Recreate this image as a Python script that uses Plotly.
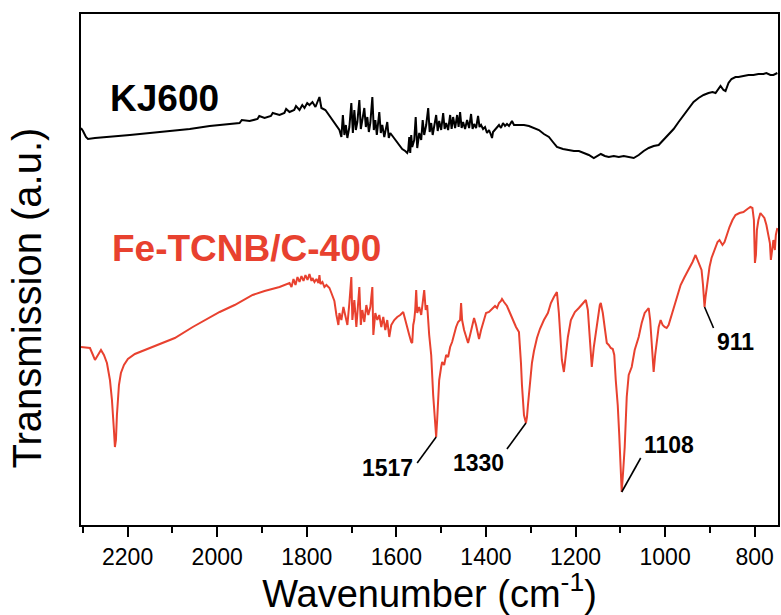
import plotly.graph_objects as go

# ---------------- data ----------------
kj600_wn = [2304.0, 2299.5, 2293.0, 2288.4, 2272.8, 2239.4, 2194.9, 2150.3, 2105.8, 2061.2,
            2016.7, 1972.2, 1950.0, 1945.0, 1927.6, 1910.0, 1906.0, 1894.2, 1880.0, 1876.0,
            1860.8, 1850.0, 1846.0, 1838.5, 1828.0, 1824.0, 1816.2, 1810.0, 1805.1, 1799.0,
            1794.0, 1787.3, 1780.6, 1771.7, 1767.3, 1758.4, 1749.4, 1740.5, 1731.6, 1727.1,
            1722.7, 1719.4, 1716.0, 1712.7, 1709.4, 1704.9, 1700.5, 1697.1, 1693.8, 1690.4,
            1687.1, 1682.6, 1679.3, 1675.9, 1671.5, 1668.1, 1664.8, 1661.4, 1658.1, 1653.6,
            1650.3, 1646.9, 1643.6, 1638.1, 1634.7, 1631.4, 1626.9, 1620.3, 1616.9, 1613.6,
            1606.9, 1600.2, 1593.5, 1586.9, 1580.2, 1575.7, 1573.5, 1571.2, 1569.0, 1566.8,
            1564.6, 1560.1, 1556.8, 1553.4, 1548.9, 1544.5, 1541.2, 1537.8, 1533.4, 1528.9,
            1525.6, 1522.2, 1518.9, 1515.5, 1511.1, 1507.7, 1504.4, 1499.9, 1495.5, 1492.2,
            1488.8, 1484.4, 1479.9, 1476.6, 1473.3, 1468.8, 1464.3, 1461.0, 1457.7, 1454.3,
            1451.0, 1446.6, 1442.1, 1437.6, 1433.2, 1429.8, 1426.5, 1422.0, 1417.6, 1414.3,
            1410.9, 1406.4, 1402.0, 1397.6, 1393.1, 1388.7, 1386.4, 1384.2, 1379.7, 1375.3,
            1370.8, 1366.4, 1361.9, 1357.4, 1353.0, 1348.5, 1344.1, 1341.9, 1337.4, 1326.3,
            1315.1, 1304.0, 1292.8, 1281.7, 1270.6, 1259.4, 1250.5, 1241.5, 1228.0, 1214.8,
            1203.6, 1192.5, 1181.3, 1170.3, 1159.2, 1143.5, 1134.6, 1125.8, 1114.6, 1103.5,
            1092.4, 1081.3, 1070.1, 1058.9, 1047.8, 1036.7, 1025.6, 1014.4, 1003.3, 992.2,
            981.0, 969.9, 958.8, 947.6, 936.5, 925.3, 914.2, 903.1, 894.2, 887.4,
            880.8, 876.3, 869.7, 865.2, 858.5, 851.8, 842.9, 836.3, 825.1, 814.0,
            802.8, 791.7, 780.6, 773.9, 765.0, 758.3, 749.4]
kj600_t = [397, 394, 388, 386, 387, 388, 390, 392, 394, 396,
           399, 401, 402, 405, 404, 406, 409, 407, 409, 412,
           410, 412, 416, 413, 415, 419, 415, 420, 417, 422,
           420, 423, 418, 428, 417, 415, 409, 403, 398, 395,
           388, 410, 390, 400, 387, 398, 422, 392, 415, 395,
           403, 425, 396, 405, 417, 398, 408, 393, 402, 428,
           395, 405, 390, 413, 392, 400, 388, 403, 387, 392,
           388, 383, 379, 376, 374, 372, 375, 388, 372, 390,
           378, 385, 408, 377, 392, 385, 405, 390, 400, 417,
           393, 402, 390, 400, 410, 394, 404, 395, 412, 396,
           402, 395, 410, 396, 408, 397, 410, 398, 413, 397,
           403, 396, 405, 397, 411, 396, 401, 397, 409, 398,
           400, 396, 398, 392, 395, 390, 387, 393, 395, 398,
           400, 397, 402, 399, 401, 399, 402, 404, 400, 400,
           400, 399, 397, 395, 391, 388, 383, 378, 376, 375,
           374, 374, 372, 370, 367, 371, 369, 368, 369, 368,
           369, 368, 367, 370, 374, 377, 379, 380, 385, 390,
           396, 403, 410, 417, 423, 427, 430, 432, 433, 432,
           436, 439, 435, 434, 442, 446, 448, 448, 449, 450,
           450, 451, 451, 452, 450, 450, 452]

fe_wn = [2304.0, 2284.0, 2277.3, 2272.8, 2266.1, 2259.4, 2252.8, 2246.1, 2239.4, 2234.9,
         2230.5, 2228.3, 2226.0, 2223.8, 2219.3, 2214.9, 2208.1, 2199.3, 2183.7, 2161.5,
         2128.1, 2094.6, 2054.5, 2016.7, 1994.4, 1961.0, 1920.9, 1894.2, 1860.8, 1838.5,
         1834.1, 1829.6, 1825.2, 1820.7, 1816.2, 1811.8, 1807.3, 1802.9, 1798.4, 1794.0,
         1789.5, 1787.3, 1782.8, 1778.4, 1773.9, 1771.7, 1769.5, 1765.0, 1760.6, 1756.1,
         1749.4, 1745.0, 1738.3, 1733.8, 1729.4, 1727.1, 1722.7, 1718.2, 1713.8, 1709.3,
         1704.9, 1700.5, 1698.2, 1693.8, 1689.3, 1684.9, 1682.6, 1679.3, 1675.9, 1671.5,
         1667.0, 1662.6, 1658.1, 1653.6, 1651.4, 1647.0, 1642.5, 1638.1, 1633.6, 1629.2,
         1624.7, 1620.3, 1615.8, 1611.4, 1604.7, 1598.0, 1591.3, 1584.7, 1580.2, 1575.7,
         1571.2, 1566.8, 1564.6, 1562.3, 1560.1, 1557.9, 1555.7, 1553.4, 1549.0, 1544.5,
         1540.0, 1537.8, 1534.5, 1531.2, 1526.7, 1522.2, 1517.8, 1513.3, 1511.1, 1508.9,
         1506.6, 1504.4, 1500.0, 1497.7, 1493.3, 1488.8, 1484.4, 1479.9, 1475.5, 1471.0,
         1466.6, 1462.1, 1457.7, 1455.5, 1453.2, 1448.8, 1444.3, 1439.9, 1435.4, 1431.0,
         1426.5, 1422.1, 1417.6, 1415.4, 1410.9, 1404.2, 1399.8, 1393.1, 1386.4, 1379.7,
         1375.3, 1370.8, 1366.4, 1364.1, 1359.7, 1353.0, 1346.3, 1339.6, 1332.9, 1326.3,
         1324.0, 1321.8, 1319.6, 1317.4, 1315.1, 1310.7, 1308.4, 1306.2, 1301.8, 1297.3,
         1292.8, 1286.1, 1279.5, 1270.6, 1261.7, 1255.0, 1248.3, 1241.6, 1237.2, 1232.7,
         1230.5, 1226.0, 1221.6, 1217.1, 1210.4, 1201.5, 1192.6, 1183.7, 1177.0, 1172.5,
         1169.2, 1165.9, 1163.7, 1159.2, 1154.8, 1150.3, 1145.8, 1143.6, 1139.1, 1134.7,
         1130.2, 1125.8, 1121.3, 1116.9, 1113.5, 1110.2, 1105.8, 1102.4, 1099.1, 1096.9,
         1093.5, 1090.2, 1085.7, 1081.3, 1074.6, 1067.9, 1059.0, 1052.3, 1045.6, 1041.1,
         1036.7, 1033.4, 1030.0, 1027.8, 1025.6, 1022.2, 1018.9, 1014.4, 1010.0, 1005.5,
         1001.1, 996.6, 992.2, 985.5, 978.8, 972.1, 965.4, 956.5, 947.6, 938.8,
         932.1, 925.4, 918.7, 915.4, 913.1, 912.0, 909.8, 905.3, 900.9, 896.4,
         889.7, 883.0, 878.6, 871.9, 867.4, 863.0, 856.3, 849.6, 842.9, 834.0,
         825.1, 816.3, 809.6, 805.1, 801.8, 799.5, 797.3, 795.1, 791.7, 787.3,
         782.8, 778.4, 773.9, 769.4, 766.1, 763.9, 761.6, 758.3, 755.0, 752.8,
         749.4]
fe_t = [178, 177, 170, 165, 170, 175, 170, 162, 145, 125,
        95, 78, 85, 110, 140, 152, 160, 166, 171, 175,
        181, 187, 198, 207, 213, 220, 230, 234, 238, 242,
        238, 246, 240, 248, 243, 249, 244, 250, 245, 251,
        244, 247, 243, 246, 242, 250, 241, 243, 238, 240,
        237, 232, 224, 210, 200, 212, 205, 218, 210, 200,
        222, 248, 205, 225, 198, 230, 238, 200, 215, 203,
        220, 210, 218, 238, 190, 212, 205, 210, 198, 208,
        195, 205, 188, 200, 205, 208, 210, 213, 205, 195,
        190, 183, 182, 200, 205, 215, 235, 212, 218, 210,
        225, 235, 215, 220, 190, 170, 130, 100, 88, 105,
        130, 145, 158, 163, 160, 170, 168, 178, 183, 192,
        198, 203, 205, 222, 205, 195, 188, 182, 190, 200,
        207, 200, 188, 186, 195, 207, 212, 213, 216, 219,
        217, 222, 224, 226, 223, 219, 212, 204, 198, 193,
        180, 162, 140, 120, 110, 102, 108, 120, 145, 162,
        174, 187, 196, 205, 212, 222, 228, 233, 212, 180,
        165, 153, 168, 188, 205, 213, 217, 222, 225, 215,
        195, 168, 158, 178, 192, 208, 220, 222, 212, 197,
        182, 180, 177, 176, 170, 145, 120, 90, 55, 33,
        55, 78, 128, 150, 158, 175, 188, 202, 212, 215,
        217, 205, 185, 165, 153, 170, 185, 198, 205, 200,
        198, 197, 200, 210, 220, 230, 240, 248, 255, 263,
        270, 262, 255, 240, 222, 218, 228, 243, 258, 267,
        275, 283, 285, 280, 283, 290, 298, 305, 310, 312,
        313, 316, 318, 317, 305, 262, 270, 295, 305, 312,
        310, 307, 300, 290, 282, 265, 275, 285, 275, 290,
        297]

peak_labels = ["1517", "1330", "1108", "911"]
peak_search = [(1530, 1495), (1325, 1295), (1110, 1085), (920, 905)]
series_names = ["KJ600", "Fe-TCNB/C-400"]

x_ticks = [2200, 2000, 1800, 1600, 1400, 1200, 1000, 800]

# ---------------- style ----------------
RED = "#E8412F"
FONT = "Arial, 'Liberation Sans', sans-serif"

fig = go.Figure()
fig.add_trace(go.Scatter(x=kj600_wn, y=kj600_t, mode="lines",
                         line=dict(color="black", width=2), name=series_names[0],
                         showlegend=False))
fig.add_trace(go.Scatter(x=fe_wn, y=fe_t, mode="lines",
                         line=dict(color=RED, width=2), name=series_names[1],
                         showlegend=False))

# peak annotations: pointer segment (pixel-sized shape anchored at the peak) + label
arrow_off = [(-19, -26), (-19, -26), (19, 34), (9, -21)]   # pixel offsets, y up
label_off = [(-49, -31), (-47, -40), (47, 47), (31, -35)]
for lab, (hi, lo), (dx, dy), (sx, sy) in zip(peak_labels, peak_search, arrow_off, label_off):
    idx = [i for i, w in enumerate(fe_wn) if lo <= w <= hi]
    im = min(idx, key=lambda i: fe_t[i])
    px, py = fe_wn[im], fe_t[im]
    fig.add_shape(type="line", xref="x", yref="y",
                  xsizemode="pixel", ysizemode="pixel", xanchor=px, yanchor=py,
                  x0=0, y0=0, x1=dx, y1=dy,
                  line=dict(color="black", width=1.6))
    fig.add_annotation(x=px, y=py, xref="x", yref="y", text="<b>%s</b>" % lab,
                       showarrow=False, xshift=sx, yshift=sy,
                       xanchor="center", yanchor="middle",
                       font=dict(family=FONT, size=23, color="black"))

# series name labels
fig.add_annotation(x=2117, y=427, xref="x", yref="y", text="<b>KJ600</b>",
                   showarrow=False, xanchor="center", yanchor="middle",
                   font=dict(family=FONT, size=37, color="black"))
fig.add_annotation(x=1934, y=277, xref="x", yref="y", text="<b>Fe-TCNB/C-400</b>",
                   showarrow=False, xanchor="center", yanchor="middle",
                   font=dict(family=FONT, size=37, color=RED))

# y axis title (placed like the reference, slightly below the plot centre)
fig.add_annotation(x=-0.077, y=0.444, xref="paper", yref="paper",
                   text="Transmission (a.u.)", textangle=-90, showarrow=False,
                   xanchor="center", yanchor="middle",
                   font=dict(family=FONT, size=40, color="black"))

fig.update_layout(
    width=781, height=615,
    margin=dict(l=81, r=1, t=14, b=90),
    paper_bgcolor="white", plot_bgcolor="white",
    font=dict(family=FONT, color="black"),
    showlegend=False,
)
fig.update_xaxes(
    range=[2304, 748], tickmode="array", tickvals=x_ticks,
    ticktext=[str(t) for t in x_ticks],
    ticks="outside", ticklen=10, tickwidth=2, tickcolor="black",
    minor=dict(ticks="outside", ticklen=6, tickwidth=2, tickcolor="black", dtick=100, tick0=2300),
    showline=True, linewidth=2, linecolor="black", mirror=True,
    showgrid=False, zeroline=False,
    tickfont=dict(family=FONT, size=23, color="black"),
    title=dict(text="Wavenumber (cm<sup>-1</sup>)", font=dict(family=FONT, size=38, color="black"),
               standoff=9),
)
fig.update_yaxes(
    range=[0, 511], showticklabels=False, ticks="",
    showline=True, linewidth=2, linecolor="black", mirror=True,
    showgrid=False, zeroline=False,
)

fig.write_html("out.html")
